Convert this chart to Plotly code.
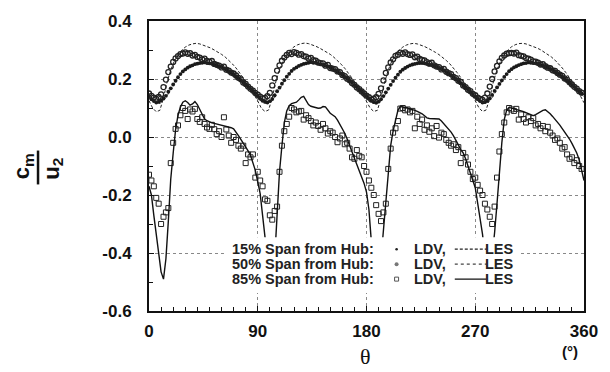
import numpy as np
import plotly.graph_objects as go

# ---------------- data ----------------
# LES, 85 % span (solid), every 2 deg from 0 to 360
les_85 = [
    -0.170, -0.200, -0.270, -0.340, -0.410, -0.465, -0.490, -0.420, -0.290, -0.145,
    -0.056, 0.025, 0.075, 0.103, 0.120, 0.125, 0.119, 0.110, 0.114, 0.122,
    0.112, 0.095, 0.075, 0.062, 0.056, 0.052, 0.049, 0.047, 0.045, 0.043,
    0.041, 0.039, 0.037, 0.035, 0.032, 0.028, 0.018, 0.005, -0.008, -0.020,
    -0.034, -0.048, -0.063, -0.088, -0.115,
    -0.155, -0.195, -0.270, -0.350, -0.420, -0.470, -0.490, -0.420, -0.250, -0.120,
    -0.030, 0.050, 0.090, 0.108, 0.115, 0.117, 0.120, 0.128, 0.137, 0.140,
    0.125, 0.112, 0.106, 0.103, 0.101, 0.099, 0.100, 0.105, 0.104, 0.092,
    0.082, 0.076, 0.070, 0.058, 0.043, 0.030, 0.013, -0.007, -0.027, -0.050,
    -0.073, -0.095, -0.117, -0.139, -0.160,
    -0.190, -0.250, -0.360, -0.440, -0.480, -0.490, -0.420, -0.320, -0.200, -0.100,
    -0.030, 0.020, 0.060, 0.092, 0.105, 0.104, 0.102, 0.100, 0.097, 0.095,
    0.092, 0.088, 0.085, 0.080, 0.073, 0.066, 0.064, 0.064, 0.064, 0.064,
    0.062, 0.055, 0.046, 0.038, 0.028, 0.017, 0.004, -0.010, -0.027, -0.044,
    -0.055, -0.075, -0.098, -0.125, -0.150,
    -0.175, -0.230, -0.290, -0.335, -0.410, -0.470, -0.490, -0.420, -0.330, -0.230,
    -0.120, -0.020, 0.060, 0.093, 0.102, 0.100, 0.098, 0.096, 0.093, 0.090,
    0.087, 0.084, 0.080, 0.077, 0.074, 0.077, 0.082, 0.087, 0.092, 0.094,
    0.088, 0.080, 0.071, 0.062, 0.052, 0.041, 0.029, 0.018, 0.006, -0.007,
    -0.022, -0.037, -0.055, -0.078, -0.110,
    -0.150,
]

# LES, 15 % span (dashed), every 3 deg from 0 to 360
les_15 = [
    0.125, 0.100, 0.087, 0.092, 0.135, 0.190, 0.232, 0.262, 0.283, 0.299,
    0.310, 0.317, 0.321, 0.323, 0.321, 0.317, 0.313, 0.307, 0.300, 0.293,
    0.285, 0.276, 0.265, 0.252, 0.238, 0.222, 0.205, 0.187, 0.168, 0.147,
    0.124, 0.099, 0.088, 0.093, 0.136, 0.191, 0.233, 0.263, 0.284, 0.300,
    0.311, 0.318, 0.322, 0.324, 0.322, 0.318, 0.313, 0.307, 0.300, 0.293,
    0.285, 0.275, 0.264, 0.251, 0.237, 0.221, 0.204, 0.186, 0.167, 0.146,
    0.124, 0.100, 0.088, 0.092, 0.134, 0.189, 0.231, 0.262, 0.283, 0.299,
    0.310, 0.317, 0.321, 0.323, 0.321, 0.317, 0.312, 0.306, 0.300, 0.292,
    0.284, 0.275, 0.264, 0.252, 0.238, 0.222, 0.205, 0.187, 0.168, 0.147,
    0.125, 0.101, 0.088, 0.093, 0.135, 0.190, 0.232, 0.262, 0.284, 0.300,
    0.311, 0.318, 0.322, 0.323, 0.321, 0.317, 0.313, 0.307, 0.301, 0.293,
    0.285, 0.276, 0.265, 0.252, 0.238, 0.222, 0.205, 0.186, 0.166, 0.142,
    0.118,
]

# LES, 50 % span (dotted), every 3 deg from 0 to 360
les_50 = [
    0.138, 0.125, 0.117, 0.116, 0.124, 0.142, 0.165, 0.187, 0.206, 0.221,
    0.233, 0.242, 0.249, 0.253, 0.256, 0.256, 0.255, 0.252, 0.248, 0.243,
    0.237, 0.230, 0.222, 0.213, 0.203, 0.193, 0.182, 0.171, 0.160, 0.149,
    0.138, 0.125, 0.117, 0.116, 0.124, 0.142, 0.165, 0.187, 0.206, 0.221,
    0.233, 0.242, 0.249, 0.253, 0.256, 0.256, 0.255, 0.252, 0.248, 0.243,
    0.237, 0.230, 0.222, 0.213, 0.203, 0.193, 0.182, 0.171, 0.160, 0.149,
    0.138, 0.125, 0.117, 0.116, 0.124, 0.142, 0.165, 0.187, 0.206, 0.221,
    0.233, 0.242, 0.249, 0.253, 0.256, 0.256, 0.255, 0.252, 0.248, 0.243,
    0.237, 0.230, 0.222, 0.213, 0.203, 0.193, 0.182, 0.171, 0.160, 0.149,
    0.138, 0.125, 0.117, 0.116, 0.124, 0.142, 0.165, 0.187, 0.206, 0.221,
    0.233, 0.242, 0.249, 0.253, 0.256, 0.256, 0.255, 0.252, 0.248, 0.243,
    0.237, 0.230, 0.222, 0.213, 0.203, 0.193, 0.182, 0.171, 0.160, 0.149,
    0.138,
]

# LDV, 15 % span (small dots), every 2 deg from 0 to 358
ldv_15 = [
    0.138, 0.130, 0.124, 0.119, 0.121, 0.126, 0.133, 0.142, 0.156, 0.168,
    0.181, 0.194, 0.206, 0.217, 0.226, 0.233, 0.239, 0.244, 0.247, 0.251,
    0.253, 0.255, 0.256, 0.257, 0.255, 0.254, 0.253, 0.250, 0.247, 0.244,
    0.241, 0.236, 0.232, 0.227, 0.221, 0.216, 0.209, 0.203, 0.196, 0.189,
    0.181, 0.174, 0.166, 0.159, 0.151,
    0.141, 0.132, 0.125, 0.121, 0.119, 0.124, 0.131, 0.144, 0.158, 0.170,
    0.184, 0.196, 0.208, 0.218, 0.228, 0.235, 0.240, 0.245, 0.249, 0.252,
    0.254, 0.256, 0.258, 0.256, 0.256, 0.253, 0.251, 0.249, 0.246, 0.243,
    0.239, 0.235, 0.230, 0.225, 0.220, 0.214, 0.207, 0.201, 0.194, 0.187,
    0.179, 0.172, 0.164, 0.157, 0.149,
    0.142, 0.133, 0.126, 0.120, 0.118, 0.122, 0.130, 0.141, 0.154, 0.167,
    0.180, 0.193, 0.205, 0.215, 0.225, 0.232, 0.238, 0.243, 0.247, 0.250,
    0.252, 0.254, 0.255, 0.255, 0.254, 0.252, 0.250, 0.248, 0.245, 0.242,
    0.238, 0.234, 0.229, 0.224, 0.219, 0.213, 0.206, 0.200, 0.193, 0.186,
    0.178, 0.171, 0.163, 0.156, 0.148,
    0.140, 0.131, 0.124, 0.119, 0.120, 0.125, 0.133, 0.145, 0.159, 0.171,
    0.183, 0.195, 0.207, 0.217, 0.227, 0.234, 0.240, 0.244, 0.248, 0.251,
    0.254, 0.255, 0.257, 0.256, 0.255, 0.254, 0.252, 0.249, 0.246, 0.243,
    0.240, 0.235, 0.231, 0.226, 0.220, 0.215, 0.208, 0.202, 0.195, 0.188,
    0.180, 0.173, 0.165, 0.158, 0.150,
]

# LDV, 50 % span (circles), every 2 deg from 0 to 358
ldv_50 = [
    0.150, 0.142, 0.136, 0.131, 0.138, 0.147, 0.172, 0.198, 0.224, 0.243,
    0.259, 0.271, 0.279, 0.286, 0.288, 0.292, 0.287, 0.289, 0.281, 0.283,
    0.276, 0.274, 0.268, 0.270, 0.262, 0.259, 0.262, 0.252, 0.249, 0.246,
    0.240, 0.243, 0.232, 0.229, 0.222, 0.219, 0.212, 0.204, 0.199, 0.188,
    0.183, 0.174, 0.166, 0.160, 0.152,
    0.146, 0.139, 0.133, 0.135, 0.141, 0.152, 0.178, 0.203, 0.229, 0.247,
    0.263, 0.274, 0.283, 0.290, 0.286, 0.293, 0.290, 0.284, 0.286, 0.279,
    0.277, 0.271, 0.273, 0.265, 0.263, 0.257, 0.255, 0.254, 0.246, 0.249,
    0.238, 0.236, 0.234, 0.226, 0.224, 0.214, 0.210, 0.201, 0.196, 0.186,
    0.180, 0.171, 0.165, 0.157, 0.150,
    0.143, 0.137, 0.129, 0.132, 0.137, 0.149, 0.168, 0.195, 0.221, 0.240,
    0.257, 0.268, 0.280, 0.284, 0.291, 0.287, 0.292, 0.286, 0.283, 0.285,
    0.275, 0.277, 0.269, 0.266, 0.264, 0.258, 0.253, 0.256, 0.247, 0.243,
    0.241, 0.233, 0.235, 0.225, 0.220, 0.217, 0.207, 0.203, 0.194, 0.190,
    0.178, 0.172, 0.163, 0.158, 0.149,
    0.144, 0.136, 0.131, 0.128, 0.136, 0.150, 0.174, 0.200, 0.226, 0.245,
    0.261, 0.273, 0.281, 0.287, 0.289, 0.290, 0.288, 0.291, 0.282, 0.280,
    0.278, 0.272, 0.270, 0.267, 0.261, 0.260, 0.256, 0.250, 0.251, 0.244,
    0.239, 0.237, 0.230, 0.228, 0.221, 0.215, 0.211, 0.202, 0.197, 0.189,
    0.181, 0.173, 0.167, 0.158, 0.153,
]

# LDV, 85 % span (squares), every 2 deg from 0 to 358
ldv_85 = [
    -0.130, -0.150, -0.170, -0.210, -0.230, -0.300, -0.275, -0.260, -0.245, -0.090,
    -0.020, 0.028, 0.040, 0.075, 0.100, 0.090, 0.062, 0.095, 0.088, 0.097,
    0.062, 0.052, 0.068, 0.045, 0.033, 0.028, 0.042, 0.027, 0.010, 0.020,
    0.000, 0.068, 0.026, 0.005, -0.020, 0.000, -0.010, -0.030, -0.040, -0.030,
    -0.090, -0.060, -0.070, -0.060, -0.140,
    -0.120, -0.150, -0.170, -0.215, -0.220, -0.270, -0.285, -0.255, -0.240, -0.120,
    -0.030, 0.020, 0.045, 0.070, 0.100, 0.095, 0.085, 0.088, 0.090, 0.060,
    0.075, 0.065, 0.055, 0.040, 0.050, 0.038, 0.025, 0.045, 0.030, 0.012,
    0.020, 0.015, 0.000, -0.018, -0.005, 0.005, -0.025, -0.020, -0.040, -0.070,
    -0.075, -0.045, -0.065, -0.070, -0.100,
    -0.120, -0.150, -0.175, -0.200, -0.235, -0.265, -0.290, -0.260, -0.230, -0.110,
    -0.040, 0.015, 0.030, 0.055, 0.098, 0.100, 0.092, 0.095, 0.085, 0.090,
    0.030, 0.070, 0.045, 0.060, 0.025, 0.040, 0.018, 0.030, 0.003, 0.038,
    -0.002, 0.015, 0.010, -0.010, -0.020, -0.030, -0.025, -0.045, -0.035, -0.090,
    -0.055, -0.070, -0.095, -0.120, -0.145,
    -0.140, -0.165, -0.185, -0.200, -0.230, -0.250, -0.275, -0.300, -0.240, -0.140,
    -0.050, 0.010, 0.050, 0.085, 0.100, 0.095, 0.090, 0.097, 0.060, 0.078,
    0.062, 0.050, 0.068, 0.055, 0.065, 0.040, 0.045, 0.030, 0.038, 0.020,
    0.035, 0.015, 0.005, -0.010, -0.005, -0.020, -0.040, -0.035, -0.060, -0.075,
    -0.070, -0.090, -0.080, -0.100, -0.110,
]

y_tickvals = [-0.6, -0.4, -0.2, 0.0, 0.2, 0.4]
y_ticktext = ["-0.6", "-0.4", "-0.2", "0.0", "0.2", "0.4"]
x_tickvals = [0, 90, 180, 270, 360]

theta_les85 = np.arange(len(les_85)) * 2
theta_les15 = np.arange(len(les_15)) * 3
theta_les50 = np.arange(len(les_50)) * 3
theta_ldv = np.arange(len(ldv_15)) * 2

# ---------------- figure ----------------
fig = go.Figure()
fig.add_trace(go.Scatter(x=theta_les50, y=les_50, mode="lines",
                         line=dict(color="#555", width=1, dash="dot"), name="50% LES"))
fig.add_trace(go.Scatter(x=theta_ldv, y=ldv_15, mode="markers",
                         marker=dict(symbol="circle", size=3.8, color="#1a1a1a"), name="15% LDV"))
fig.add_trace(go.Scatter(x=theta_ldv, y=ldv_50, mode="markers",
                         marker=dict(symbol="circle-open", size=5, color="#222",
                                     line=dict(width=1.3)), name="50% LDV"))
fig.add_trace(go.Scatter(x=theta_les15, y=les_15, mode="lines",
                         line=dict(color="#222", width=1, dash="3px,2px"), name="15% LES"))
fig.add_trace(go.Scatter(x=theta_ldv, y=ldv_85, mode="markers",
                         marker=dict(symbol="square-open", size=5, color="#222",
                                     line=dict(width=1)), name="85% LDV"))
fig.add_trace(go.Scatter(x=theta_les85, y=les_85, mode="lines",
                         line=dict(color="#111", width=1.4), name="85% LES"))

L, R, T, B = 149, 20, 20, 61
W, H = 610, 372
pw, ph = W - L - R, H - T - B


def px(x):
    return (x - L) / pw


def py(y):
    return (H - B - y) / ph


bold = dict(family="Liberation Sans, Arial, sans-serif", size=17, color="#111", weight="bold")

fig.update_layout(
    width=W, height=H,
    margin=dict(l=L, r=R, t=T, b=B),
    paper_bgcolor="white", plot_bgcolor="white",
    showlegend=False,
    xaxis=dict(range=[0, 360], tickvals=x_tickvals, ticks="inside", ticklen=5, tickwidth=1,
               tickcolor="#111", showline=True, linewidth=2, linecolor="#111", mirror=True,
               showgrid=True, gridcolor="#888", griddash="dot", gridwidth=1, zeroline=False,
               minor=dict(dtick=10, ticks="inside", ticklen=4, tickcolor="#111", showgrid=False),
               tickfont=bold, ticklabelstandoff=4),
    yaxis=dict(range=[-0.6, 0.4], tickvals=y_tickvals, ticktext=y_ticktext, ticks="inside",
               ticklen=5, tickwidth=1, tickcolor="#111", showline=True, linewidth=2,
               linecolor="#111", mirror=True, showgrid=True, gridcolor="#888", griddash="dot",
               gridwidth=1, zeroline=False,
               minor=dict(dtick=0.1, ticks="inside", ticklen=4, tickcolor="#111", showgrid=False),
               tickfont=bold, ticklabelstandoff=12),
)

shapes = []
# legend background box
shapes.append(dict(type="rect", xref="paper", yref="paper", x0=px(225), x1=px(525),
                   y0=py(293), y1=py(237), fillcolor="white", line=dict(width=0), layer="above"))
# fraction bar of y title
shapes.append(dict(type="line", xref="paper", yref="paper", x0=px(36.5), x1=px(36.5),
                   y0=py(150), y1=py(184), line=dict(color="#111", width=2.5), layer="above"))

annotations = []
leg_font = dict(family="Liberation Sans, Arial, sans-serif", size=14.5, color="#222", weight="bold")
rows = [(249, "15% Span from Hub:", "3px,2px", "#222"),
        (264, "50% Span from Hub:", "dot", "#444"),
        (279, "85% Span from Hub:", "solid", "#111")]
for i, (yy, label, dash, col) in enumerate(rows):
    annotations.append(dict(xref="paper", yref="paper", x=px(231), y=py(yy), text=label,
                            showarrow=False, xanchor="left", yanchor="middle", font=leg_font))
    annotations.append(dict(xref="paper", yref="paper", x=px(416), y=py(yy), text="LDV,",
                            showarrow=False, xanchor="left", yanchor="middle", font=leg_font))
    annotations.append(dict(xref="paper", yref="paper", x=px(488), y=py(yy), text="LES",
                            showarrow=False, xanchor="left", yanchor="middle", font=leg_font))
    shapes.append(dict(type="line", xref="paper", yref="paper", x0=px(459), x1=px(491),
                       y0=py(yy), y1=py(yy), line=dict(color=col, width=1.2, dash=dash),
                       layer="above"))
# legend marker samples
shapes.append(dict(type="circle", xref="paper", yref="paper", xsizemode="pixel", ysizemode="pixel",
                   xanchor=px(400), yanchor=py(249), x0=-1.3, x1=1.3, y0=-1.3, y1=1.3,
                   fillcolor="#222", line=dict(width=0), layer="above"))
shapes.append(dict(type="circle", xref="paper", yref="paper", xsizemode="pixel", ysizemode="pixel",
                   xanchor=px(400), yanchor=py(264), x0=-2, x1=2, y0=-2, y1=2,
                   fillcolor="#777", line=dict(width=0), layer="above"))
shapes.append(dict(type="rect", xref="paper", yref="paper", xsizemode="pixel", ysizemode="pixel",
                   xanchor=px(400), yanchor=py(279), x0=-2, x1=2, y0=-2, y1=2,
                   fillcolor="white", line=dict(color="#555", width=1), layer="above"))

# y-axis title as a fraction c_m / u_2
annotations.append(dict(xref="paper", yref="paper", x=px(22), y=py(166), text="<b>c<sub>m</sub></b>",
                        textangle=-90, showarrow=False, xanchor="center", yanchor="middle",
                        font=dict(family="Liberation Sans, Arial, sans-serif", size=22, color="#111")))
annotations.append(dict(xref="paper", yref="paper", x=px(52), y=py(168), text="<b>u<sub>2</sub></b>",
                        textangle=-90, showarrow=False, xanchor="center", yanchor="middle",
                        font=dict(family="Liberation Sans, Arial, sans-serif", size=22, color="#111")))
# x-axis title
annotations.append(dict(xref="paper", yref="paper", x=px(368), y=py(357), text="θ",
                        showarrow=False, xanchor="center", yanchor="middle",
                        font=dict(family="Liberation Serif, Times New Roman, serif", size=22, color="#111")))
annotations.append(dict(xref="paper", yref="paper", x=px(576), y=py(352), text="<b>(°)</b>",
                        showarrow=False, xanchor="center", yanchor="middle",
                        font=dict(family="Liberation Sans, Arial, sans-serif", size=15, color="#111")))

fig.update_layout(shapes=shapes, annotations=annotations)
fig.write_html("out.html")
